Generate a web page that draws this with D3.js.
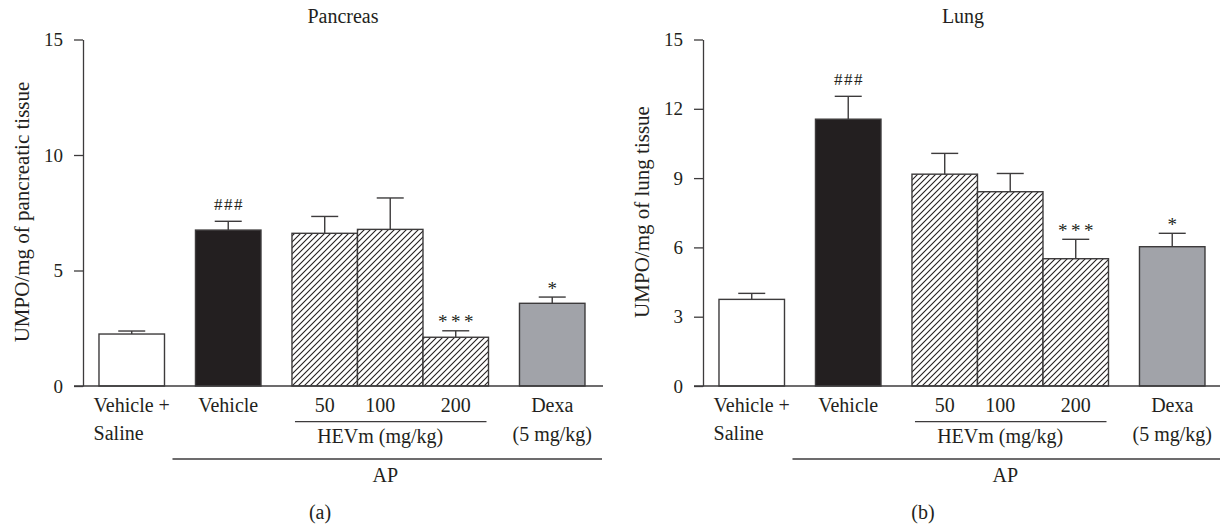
<!DOCTYPE html>
<html>
<head>
<meta charset="utf-8">
<title>UMPO pancreas / lung</title>
<script src="https://d3js.org/d3.v7.min.js"></script>
<style>
  body { margin: 0; background: #fff; }
  text { font-family: "Liberation Serif", "Times New Roman", serif; fill: #231f20; }
</style>
</head>
<body>
<div id="chart"></div>
<script>
var width = 1220;
var height = 524;

// ----- Data -----
var groups = ['saline', 'vehicle', 'hevm', 'hevm', 'hevm', 'dexa'];
var catLine1 = ['Vehicle +', 'Vehicle', '50', '100', '200', 'Dexa'];
var catLine2 = ['Saline', '', '', '', '', '(5 mg/kg)'];

var pancreasMean = [2.25, 6.75, 6.61, 6.78, 2.11, 3.58];
var pancreasSem  = [0.13, 0.38, 0.73, 1.36, 0.28, 0.27];
var pancreasSig  = ['', '###', '', '', '***', '*'];
var pancreasTicks = [0, 5, 10, 15];

var lungMean = [3.75, 11.55, 9.17, 8.41, 5.51, 6.03];
var lungSem  = [0.26, 0.99, 0.90, 0.79, 0.84, 0.58];
var lungSig  = ['', '###', '', '', '***', '*'];
var lungTicks = [0, 3, 6, 9, 12, 15];

var panels = [
  { title: 'Pancreas', ylabel: 'UMPO/mg of pancreatic tissue', letter: '(a)',
    mean: pancreasMean, sem: pancreasSem, sig: pancreasSig, ticks: pancreasTicks,
    x0: 83, letterX: 320 },
  { title: 'Lung', ylabel: 'UMPO/mg of lung tissue', letter: '(b)',
    mean: lungMean, sem: lungSem, sig: lungSig, ticks: lungTicks,
    x0: 703, letterX: 923 }
];

// ----- Helpers -----
var ink = '#231f20';
var stroke = '#3d3b3c';

// bar positions in "bar units": adjacent within a group, gap between groups
var gapU = 0.473, padL = 0.244, padR = 0.275;
var unitStart = [];
(function () {
  var u = padL;
  groups.forEach(function (g, i) {
    if (i > 0 && g !== groups[i - 1]) u += gapU;
    unitStart.push(u);
    u += 1;
  });
  unitStart.total = u + padR;
})();

var svg = d3.select('#chart').append('svg')
  .attr('width', width)
  .attr('height', height);

var defs = svg.append('defs');
var pat = defs.append('pattern')
  .attr('id', 'hatch')
  .attr('patternUnits', 'userSpaceOnUse')
  .attr('width', 6)
  .attr('height', 6);
pat.append('rect').attr('width', 6).attr('height', 6).attr('fill', '#fff');
pat.append('path')
  .attr('d', 'M0,6 L6,0 M-1,1 L1,-1 M5,7 L7,5')
  .attr('stroke', ink)
  .attr('stroke-width', 1.1);

function fillFor(g) {
  if (g === 'vehicle') return ink;
  if (g === 'hevm') return 'url(#hatch)';
  if (g === 'dexa') return '#a1a3a9';
  return '#fff';
}

function drawPanel(p) {
  var x = d3.scaleLinear().domain([0, unitStart.total]).range([p.x0, p.x0 + 520]);
  var y = d3.scaleLinear().domain([0, 15]).range([386, 39.5]);
  var bw = x(1) - x(0);
  var g = svg.append('g');

  // y axis
  var yAxis = d3.axisLeft(y).tickValues(p.ticks).tickSize(9).tickSizeOuter(0).tickPadding(11);
  var ya = g.append('g').attr('transform', 'translate(' + p.x0 + ',0)').call(yAxis);
  ya.select('.domain').attr('stroke', stroke).attr('stroke-width', 1.3);
  ya.selectAll('.tick line').attr('stroke', stroke).attr('stroke-width', 1.3);
  ya.selectAll('.tick text')
    .attr('font-size', 19)
    .attr('font-family', '"Liberation Serif", serif')
    .attr('fill', ink);

  // bars
  var idx = d3.range(groups.length);
  g.selectAll('rect.bar').data(idx).join('rect')
    .attr('class', 'bar')
    .attr('x', function (i) { return x(unitStart[i]); })
    .attr('y', function (i) { return y(p.mean[i]); })
    .attr('width', bw)
    .attr('height', function (i) { return y(0) - y(p.mean[i]); })
    .attr('fill', function (i) { return fillFor(groups[i]); })
    .attr('stroke', stroke)
    .attr('stroke-width', 1.4);

  // error bars + significance marks
  idx.forEach(function (i) {
    var cx = x(unitStart[i] + 0.5);
    var top = y(p.mean[i] + p.sem[i]);
    g.append('line').attr('x1', cx).attr('x2', cx)
      .attr('y1', y(p.mean[i])).attr('y2', top)
      .attr('stroke', stroke).attr('stroke-width', 1.4);
    g.append('line').attr('x1', cx - 13.5).attr('x2', cx + 13.5)
      .attr('y1', top).attr('y2', top)
      .attr('stroke', stroke).attr('stroke-width', 1.4);
    if (p.sig[i]) {
      var isHash = p.sig[i].charAt(0) === '#';
      var ls = isHash ? 1.5 : 3.5;
      g.append('text')
        .attr('x', cx + ls / 2)
        .attr('y', top - (isHash ? 11 : 2.5))
        .attr('text-anchor', 'middle')
        .attr('font-size', isHash ? 17 : 19)
        .attr('letter-spacing', ls)
        .text(p.sig[i]);
    }
  });

  // x axis line
  g.append('line')
    .attr('x1', p.x0 - 9).attr('x2', p.x0 + 520)
    .attr('y1', 386).attr('y2', 386)
    .attr('stroke', stroke).attr('stroke-width', 1.3);

  // category labels
  idx.forEach(function (i) {
    var cx = x(unitStart[i] + 0.5);
    if (catLine1[i] === '100') cx -= 10;
    var t1 = g.append('text')
      .attr('x', cx).attr('y', 411.5)
      .attr('text-anchor', 'middle')
      .attr('font-size', 20)
      .text(catLine1[i]);
    if (catLine2[i]) {
      if (groups[i] === 'saline') {
        var w = t1.node().getComputedTextLength();
        g.append('text').attr('x', cx - w / 2).attr('y', 440)
          .attr('font-size', 20).text(catLine2[i]);
      } else {
        g.append('text').attr('x', cx).attr('y', 441)
          .attr('text-anchor', 'middle').attr('font-size', 20).text(catLine2[i]);
      }
    }
  });

  // HEVm bracket
  var hx1 = x(unitStart[2]) + 3, hx2 = x(unitStart[4] + 1) - 2;
  g.append('line').attr('x1', hx1).attr('x2', hx2)
    .attr('y1', 421.7).attr('y2', 421.7)
    .attr('stroke', stroke).attr('stroke-width', 1.3);
  g.append('text')
    .attr('x', x(unitStart[3] + 0.5) - 10).attr('y', 443)
    .attr('text-anchor', 'middle').attr('font-size', 20)
    .text('HEVm (mg/kg)');

  // AP bracket
  var ax1 = x(unitStart[1]) - 23, ax2 = p.x0 + 519;
  g.append('line').attr('x1', ax1).attr('x2', ax2)
    .attr('y1', 459).attr('y2', 459)
    .attr('stroke', stroke).attr('stroke-width', 1.3);
  g.append('text')
    .attr('x', (ax1 + ax2) / 2 - 2).attr('y', 482)
    .attr('text-anchor', 'middle').attr('font-size', 20)
    .text('AP');

  // title, y label, panel letter
  g.append('text')
    .attr('x', p.x0 + 260).attr('y', 23)
    .attr('text-anchor', 'middle').attr('font-size', 20)
    .text(p.title);
  g.append('text')
    .attr('transform', 'translate(' + (p.x0 - 54) + ',212) rotate(-90)')
    .attr('text-anchor', 'middle').attr('font-size', 21)
    .text(p.ylabel);
  g.append('text')
    .attr('x', p.letterX).attr('y', 519)
    .attr('text-anchor', 'middle').attr('font-size', 20)
    .text(p.letter);
}

panels.forEach(drawPanel);
</script>
</body>
</html>
